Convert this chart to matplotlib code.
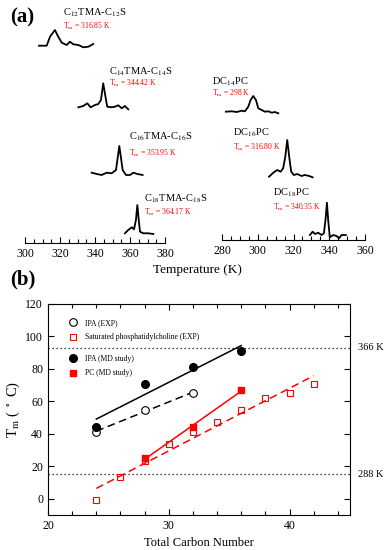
import numpy as np
import matplotlib
matplotlib.use('Agg')
import matplotlib.pyplot as plt
from matplotlib.ticker import MultipleLocator
from matplotlib.lines import Line2D
import matplotlib.transforms as mtransforms

plt.rcParams['font.family'] = ['Liberation Serif', 'DejaVu Serif']
plt.rcParams['mathtext.fontset'] = 'stix'

# ---- panel (a): melting peaks ----
# IPA systems (left axis, K)
t_c12 = [308.0, 312.4, 314.3, 317.1, 319.0, 321.0, 323.8, 325.7, 327.6, 330.5, 333.3, 336.2, 339.0]
i_c12 = [0.3, 0.3, 9.3, 16.0, 9.3, 3.3, 1.0, 4.3, 1.7, 1.0, -1.3, -0.7, 2.0]
t_c14 = [330.5, 333.3, 335.6, 337.5, 340.0, 341.9, 343.4, 344.7, 346.3, 347.0, 349.5, 351.4, 353.3, 355.3, 357.1, 359.0]
i_c14 = [0.7, 2.0, 4.7, 0.7, 3.0, 4.0, 8.0, 24.7, 8.0, 1.3, 0.7, 1.3, 2.7, -0.3, 2.0, -1.3]
t_c16 = [338.1, 341.0, 343.8, 346.7, 349.5, 352.0, 353.9, 355.8, 357.7, 360.0, 361.9, 364.2, 367.2]
i_c16 = [2.3, 1.0, 0.0, 2.3, 1.7, 5.0, 29.0, 5.0, 0.0, 0.0, 2.3, 1.0, 0.0]
t_c18 = [357.1, 359.0, 361.0, 362.3, 363.4, 364.2, 365.0, 365.7, 367.6, 370.5, 373.3]
i_c18 = [0.7, 4.0, 6.7, 4.7, 14.0, 29.0, 14.0, 2.3, 0.7, 0.7, 0.0]
# PC systems (right axis, K)
t_dc14 = [282.2, 285.4, 288.2, 291.0, 292.8, 294.7, 296.0, 297.5, 299.0, 300.3, 302.2, 304.0, 305.9, 307.8, 309.6, 311.5]
i_dc14 = [0.3, 0.7, 0.0, 1.3, 0.7, 5.3, 12.0, 16.0, 12.0, 3.7, 2.0, 0.3, 0.7, -0.7, 0.0, -1.3]
t_dc16 = [306.3, 308.7, 310.9, 312.8, 314.2, 315.4, 316.5, 317.6, 318.7, 320.2, 322.1, 324.5, 326.4, 328.8, 330.7]
i_dc16 = [0.3, 4.3, 7.0, 5.3, 8.7, 20.3, 37.0, 20.3, 5.3, 2.0, 3.0, 1.0, 2.0, 1.0, -0.3]
t_dc18 = [329.2, 330.7, 332.0, 333.8, 335.7, 337.0, 337.9, 338.7, 339.4, 340.3, 342.2, 344.1, 345.5, 346.9, 349.3]
i_dc18 = [1.0, 4.3, 2.0, 3.3, 1.0, 2.7, 16.0, 33.3, 16.0, -1.3, 1.0, 0.0, -2.3, 1.0, 1.0]

ipa_names = [r'C$_{12}$TMA-C$_{12}$S', r'C$_{14}$TMA-C$_{14}$S', r'C$_{16}$TMA-C$_{16}$S', r'C$_{18}$TMA-C$_{18}$S']
ipa_tm = ['316.85', '344.42', '353.95', '364.17']
pc_names = [r'DC$_{14}$PC', r'DC$_{16}$PC', r'DC$_{18}$PC']
pc_tm = ['298', '316.80', '340.35']

# ---- panel (b): Tm vs total carbon number ----
ipa_exp_n = [24, 28, 32]
ipa_exp_tm = [41, 55, 65]
pc_exp_n = [24, 26, 28, 30, 32, 34, 36, 38, 40, 42]
pc_exp_tm = [-1, 13.5, 23, 34, 41, 47.5, 55, 62, 65, 71]
ipa_md_n = [24, 28, 32, 36]
ipa_md_tm = [44, 71, 81, 91]
pc_md_n = [28, 32, 36]
pc_md_tm = [25, 44, 67]
ref_lines = [93, 15]
ref_labels = ['366 K', '288 K']

RED = '#ff0000'
W, H = 388, 550
fig = plt.figure(figsize=(W/100, H/100), dpi=100)

def peak_axes(x0, x1, ybot, xlim):
    ax = fig.add_axes([x0/W, 1-ybot/H, (x1-x0)/W, ybot/H])
    ax.set_xlim(*xlim); ax.set_ylim(0, ybot)
    ax.patch.set_alpha(0)
    for s in ['left', 'right', 'top']:
        ax.spines[s].set_visible(False)
    ax.spines['bottom'].set_linewidth(0.8)
    ax.set_yticks([])
    ax.xaxis.set_major_locator(MultipleLocator(20))
    ax.xaxis.set_minor_locator(MultipleLocator(5))
    ax.tick_params(axis='x', which='both', direction='in', labelsize=8.5, width=0.8)
    ax.tick_params(axis='x', which='major', length=4)
    ax.tick_params(axis='x', which='minor', length=3)
    return ax

ax_l = peak_axes(25, 165, 243, (300, 380))
ax_r = peak_axes(222, 365, 240, (280, 360))

# baselines (axis units) and label anchors
ipa_curves = [(t_c12, i_c12), (t_c14, i_c14), (t_c16, i_c16), (t_c18, i_c18)]
ipa_base = [197, 135, 68, 9]
ipa_lab = [(321.7, 230, 217), (348, 171, 160), (359.4, 106, 90), (368, 44, 31)]
for (t, i), b, name, tm, (lx, ly, ry) in zip(ipa_curves, ipa_base, ipa_names, ipa_tm, ipa_lab):
    ax_l.plot(t, np.array(i) + b, color='black', lw=1.3, clip_on=False)
    ax_l.text(lx, ly, name, fontsize=7.5, va='center')
    ax_l.text(lx, ry, r'T$_{\rm m}$ = ' + tm + ' K', fontsize=5.5, color=RED, va='center')

pc_curves = [(t_dc14, i_dc14), (t_dc16, i_dc16), (t_dc18, i_dc18)]
pc_base = [128, 63, 4]
pc_lab = [(274.4, 158, 147), (286.1, 107, 93), (308.5, 47, 33)]
for (t, i), b, name, tm, (lx, ly, ry) in zip(pc_curves, pc_base, pc_names, pc_tm, pc_lab):
    ax_r.plot(t, np.array(i) + b, color='black', lw=1.3, clip_on=False)
    ax_r.text(lx, ly, name, fontsize=7.5, va='center')
    ax_r.text(lx, ry, r'T$_{\rm m}$ = ' + tm + ' K', fontsize=5.5, color=RED, va='center')

fig.text(197/W, 1-270/H, 'Temperature (K)', fontsize=9.5, ha='center', va='center')
fig.text(22/W, 1-17/H, '(a)', fontsize=15, fontweight='bold', ha='center', va='center')
fig.text(23/W, 1-279/H, '(b)', fontsize=15, fontweight='bold', ha='center', va='center')

# panel (b)
ax = fig.add_axes([48/W, 1-515/H, 302/W, 211/H])
ax.set_xlim(20, 45); ax.set_ylim(-10, 120)
for y in ref_lines:
    ax.axhline(y, color='black', ls=(0, (1, 2.2)), lw=0.9)
trans = mtransforms.blended_transform_factory(ax.transAxes, ax.transData)
for y, s in zip(ref_lines, ref_labels):
    ax.text(1.025, y, s, transform=trans, fontsize=7.5, va='center')

def fit(n, tm):
    p = np.polyfit(n, tm, 1)
    xs = np.array([min(n), max(n)])
    return xs, np.polyval(p, xs)

x, y = fit(ipa_exp_n, ipa_exp_tm); ax.plot(x, y, color='black', ls=(0, (5, 3)), lw=1.1)
x, y = fit(ipa_md_n, ipa_md_tm); ax.plot(x, y, color='black', lw=1.1)
x, y = fit(pc_exp_n, pc_exp_tm); ax.plot(x, y, color=RED, ls=(0, (5, 3)), lw=1.1)
x, y = fit(pc_md_n, pc_md_tm); ax.plot(x, y, color=RED, lw=1.1)

ax.plot(ipa_exp_n, ipa_exp_tm, 'o', mfc='white', mec='black', ms=5.5, mew=0.8, ls='none')
ax.plot(ipa_md_n, ipa_md_tm, 'o', color='black', ms=5.5, ls='none')
ax.plot(pc_exp_n, pc_exp_tm, 's', mfc='none', mec=RED, ms=5, mew=0.8, ls='none')
ax.plot(pc_md_n, pc_md_tm, 's', color=RED, ms=5, ls='none')

h1 = [Line2D([], [], marker='o', mfc='white', mec='black', ms=5.5, mew=0.8, ls='none'),
      Line2D([], [], marker='s', mfc='none', mec=RED, ms=5, mew=0.8, ls='none')]
h2 = [Line2D([], [], marker='o', color='black', ms=5.5, ls='none'),
      Line2D([], [], marker='s', color=RED, ms=5, ls='none')]
leg1 = ax.legend(h1, ['IPA (EXP)', 'Saturated phosphatidylcholine (EXP)'], loc='center left',
                 bbox_to_anchor=(0.048, 0.877), frameon=False, fontsize=5.5, handletextpad=0.6,
                 labelspacing=0.85, borderaxespad=0)
ax.add_artist(leg1)
ax.legend(h2, ['IPA (MD study)', 'PC (MD study)'], loc='center left',
          bbox_to_anchor=(0.048, 0.706), frameon=False, fontsize=5.5, handletextpad=0.6,
          labelspacing=0.85, borderaxespad=0)

ax.xaxis.set_major_locator(MultipleLocator(10))
ax.xaxis.set_minor_locator(MultipleLocator(2))
ax.yaxis.set_major_locator(MultipleLocator(20))
ax.tick_params(which='both', direction='in', top=True, right=True, labelsize=8.5, width=0.8)
ax.tick_params(which='major', length=4.5)
ax.tick_params(which='minor', length=3)
for s in ax.spines.values():
    s.set_linewidth(0.8)
ax.set_xlabel('Total Carbon Number', fontsize=9, labelpad=4)
ax.set_ylabel(r'T$_{\rm m}$ ( $^\circ$ C)', fontsize=10.5, labelpad=2)

fig.savefig('out.png', dpi=100)
